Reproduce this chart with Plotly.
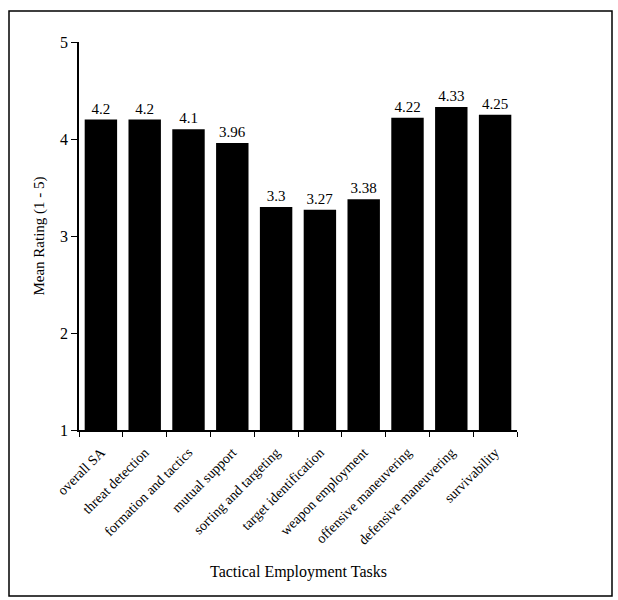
import plotly.graph_objects as go

categories = ["overall SA", "threat detection", "formation and tactics", "mutual support",
              "sorting and targeting", "target identification", "weapon employment",
              "offensive maneuvering", "defensive maneuvering", "survivability"]
values = [4.2, 4.2, 4.1, 3.96, 3.3, 3.27, 3.38, 4.22, 4.33, 4.25]
value_labels = ["4.2", "4.2", "4.1", "3.96", "3.3", "3.27", "3.38", "4.22", "4.33", "4.25"]
y_ticks = [1, 2, 3, 4, 5]

W, H = 618, 600
L, R, T, B = 79, 101, 42, 170
FONT = "Liberation Serif, Times New Roman, serif"

fig = go.Figure(go.Bar(
    x=categories, y=values,
    marker=dict(color="black", line=dict(width=0)),
    text=value_labels, textposition="outside", cliponaxis=False,
    textfont=dict(family=FONT, size=15, color="black"),
    width=0.74,
))

pw, ph = W - L - R, H - T - B
def px_x(p):
    return (p - L) / pw
def px_y(p):
    return 1 - (p - T) / ph

fig.update_layout(
    width=W, height=H,
    margin=dict(l=L, r=R, t=T, b=B),
    paper_bgcolor="white", plot_bgcolor="white",
    showlegend=False,
    font=dict(family=FONT, color="black"),
    xaxis=dict(
        type="category", tickson="boundaries", ticks="outside", ticklen=5,
        tickcolor="black", showline=True, linecolor="black", linewidth=1.5,
        tickangle=-45, tickfont=dict(family=FONT, size=14, color="black"),
        ticklabelstandoff=7, showgrid=False,
    ),
    yaxis=dict(
        range=[1, 5], tickvals=y_ticks, ticktext=[str(t) for t in y_ticks],
        ticks="outside", ticklen=6, tickcolor="black", showline=True, linecolor="black",
        linewidth=1.5, showgrid=False, zeroline=False,
        tickfont=dict(family=FONT, size=16, color="black"),
        title=dict(text="Mean Rating (1 - 5)", font=dict(family=FONT, size=15, color="black"), standoff=12),
    ),
    annotations=[dict(
        text="Tactical Employment Tasks", xref="paper", yref="paper",
        x=0.5, y=px_y(572), xanchor="center", yanchor="middle", showarrow=False,
        font=dict(family=FONT, size=16, color="black"),
    )],
    shapes=[dict(
        type="rect", xref="paper", yref="paper",
        x0=px_x(9), x1=px_x(612), y0=px_y(596), y1=px_y(11),
        line=dict(color="black", width=1.5), fillcolor="rgba(0,0,0,0)",
    )],
)

fig.write_html("out.html", config={"displayModeBar": False},
               post_script="document.body.style.margin='0';document.body.style.overflow='hidden';")
